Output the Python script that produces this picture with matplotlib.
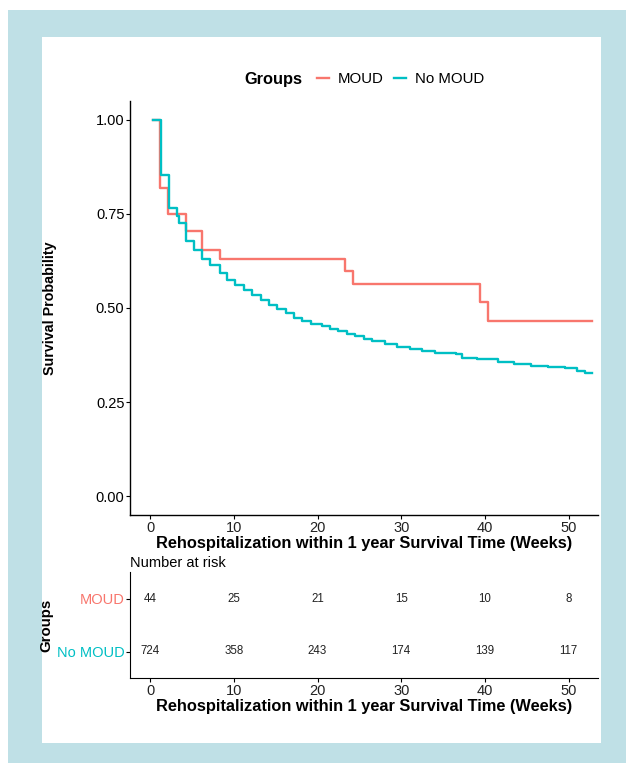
import matplotlib
matplotlib.use("Agg")
import matplotlib.pyplot as plt
from matplotlib.patches import Rectangle
from matplotlib.offsetbox import HPacker

plt.rcParams['font.family'] = ['Liberation Sans', 'DejaVu Sans']

# survival curves (step after each time)
moud_t = [0.3, 1.2, 2.1, 4.3, 6.2, 8.3, 23.3, 24.2, 39.4, 40.4, 52.8]
moud_s = [1.0, 0.818, 0.75, 0.705, 0.655, 0.63, 0.597, 0.565, 0.517, 0.465, 0.465]

nomoud_t = [0.3, 1.3, 2.3, 3.2, 3.5, 4.3, 5.2, 6.2, 7.2, 8.3, 9.2, 10.2, 11.2, 12.2, 13.2,
            14.2, 15.2, 16.2, 17.2, 18.2, 19.2, 20.5, 21.5, 22.5, 23.5, 24.5, 25.5,
            26.5, 28, 29.5, 31, 32.5, 34, 36.5, 37.3, 39, 41.5, 43.5, 45.5, 47.5,
            49.5, 51, 52, 52.8]
nomoud_s = [1.0, 0.854, 0.765, 0.745, 0.727, 0.679, 0.654, 0.63, 0.614, 0.592, 0.575,
            0.561, 0.548, 0.535, 0.522, 0.509, 0.497, 0.486, 0.474, 0.466, 0.458,
            0.452, 0.445, 0.439, 0.432, 0.425, 0.417, 0.412, 0.405, 0.397, 0.392,
            0.386, 0.381, 0.377, 0.367, 0.364, 0.357, 0.352, 0.347, 0.344, 0.340,
            0.333, 0.327, 0.327]

groups = ['MOUD', 'No MOUD']
colors = ['#F8766D', '#00BFC4']
risk_times = [0, 10, 20, 30, 40, 50]
risk_moud = [44, 25, 21, 15, 10, 8]
risk_nomoud = [724, 358, 243, 174, 139, 117]

W, H = 626, 763
fig = plt.figure(figsize=(W / 100, H / 100), dpi=100)
fig.patch.set_facecolor('white')

# light blue frame and white panel
fig.patches.append(Rectangle((8 / W, 0), 1 - 8 / W, 1 - 10 / H, transform=fig.transFigure,
                             facecolor='#bfe0e6', edgecolor='none', zorder=-2))
fig.patches.append(Rectangle((42 / W, 1 - 743 / H), 559 / W, 706 / H, transform=fig.transFigure,
                             facecolor='white', edgecolor='none', zorder=-1))

xlim = (-2.4, 53.5)
xtitle = 'Rehospitalization within 1 year Survival Time (Weeks)'

ax = fig.add_axes([130 / W, 1 - 515 / H, 468 / W, 414 / H])
ax.step(moud_t, moud_s, where='post', color=colors[0], lw=1.7, label='MOUD')
ax.step(nomoud_t, nomoud_s, where='post', color=colors[1], lw=1.7, label='No MOUD')
ax.set_xlim(*xlim)
ax.set_ylim(-0.05, 1.05)
ax.set_yticks([0, 0.25, 0.5, 0.75, 1.0])
ax.set_yticklabels(['0.00', '0.25', '0.50', '0.75', '1.00'])
ax.set_xticks(risk_times)
for s in ['top', 'right']:
    ax.spines[s].set_visible(False)
for s in ['left', 'bottom']:
    ax.spines[s].set_linewidth(1.0)
ax.tick_params(length=3, width=0.8, labelsize=10.5, pad=1, colors='black')
ax.tick_params(axis='x', labelcolor='#222222')
ax.set_ylabel('Survival Probability', fontsize=10.3, fontweight='bold')
ax.yaxis.set_label_coords(-0.155, 0.5)
ax.set_xlabel(xtitle, fontsize=11.8, fontweight='bold', labelpad=1)

# legend on top, title inline
leg = ax.legend(title='Groups', loc='lower center', bbox_to_anchor=(0.5, 1.02), ncol=2,
                frameon=False, fontsize=10.8, handlelength=0.8, handletextpad=0.6,
                columnspacing=0.65, borderaxespad=0)
leg.get_title().set_fontweight('bold')
leg.get_title().set_fontsize(11.8)
box = leg._legend_box
box._children = [HPacker(children=[box._children[0], box._children[1]], pad=0, sep=11,
                         align='center')]

# risk table
rt = fig.add_axes([130 / W, 1 - 678 / H, 468 / W, 106 / H])
rt.set_xlim(*xlim)
rt.set_ylim(-0.5, 1.5)
for i, t in enumerate(risk_times):
    rt.text(t, 1, str(risk_moud[i]), ha='center', va='center', fontsize=8.3, color='#222222')
    rt.text(t, 0, str(risk_nomoud[i]), ha='center', va='center', fontsize=8.3, color='#222222')
rt.set_yticks([1, 0])
rt.set_yticklabels(groups)
for lab, c in zip(rt.get_yticklabels(), colors):
    lab.set_color(c)
rt.set_xticks(risk_times)
for s in ['top', 'right']:
    rt.spines[s].set_visible(False)
rt.tick_params(length=3, width=0.8, labelsize=10.5, pad=1)
rt.tick_params(axis='x', labelcolor='#222222')
rt.tick_params(axis='y', labelsize=10.5)
rt.set_xlabel(xtitle, fontsize=11.8, fontweight='bold', labelpad=1)
rt.set_ylabel('Groups', fontsize=10.8, fontweight='bold')
rt.yaxis.set_label_coords(-0.163, 0.5)
rt.text(0, 1.02, 'Number at risk', transform=rt.transAxes, fontsize=10.5, va='bottom',
        ha='left')

plt.savefig('out.png', dpi=100)
